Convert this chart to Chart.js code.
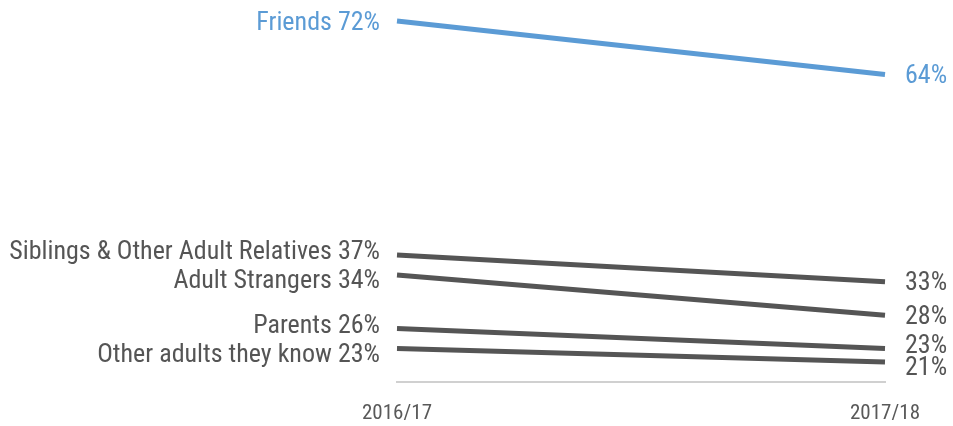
<!DOCTYPE html>
<html><head><meta charset="utf-8">
<script src="https://cdn.jsdelivr.net/npm/chart.js@4"></script>
<style>html,body{margin:0;padding:0;background:#fff}#w{width:953px;height:426px}</style>
</head><body><div id="w"><canvas id="c"></canvas></div>
<script>
const years = ["2016/17", "2017/18"];
const seriesNames = ["Friends", "Siblings & Other Adult Relatives", "Adult Strangers", "Parents", "Other adults they know"];
const friends = [72, 64];
const siblings = [37, 33];
const strangers = [34, 28];
const parents = [26, 23];
const otherAdults = [23, 21];
const seriesValues = [friends, siblings, strangers, parents, otherAdults];
const seriesColors = ["#5b9bd5", "#555555", "#555555", "#555555", "#555555"];

const FONT = "'Roboto Condensed','Roboto',sans-serif";

const labelPlugin = {
  id: 'endLabels',
  afterDatasetsDraw(chart) {
    const ctx = chart.ctx;
    ctx.save();
    ctx.font = "26px " + FONT;
    ctx.textBaseline = 'middle';
    [0, 1].forEach(side => {
      const items = chart.data.datasets.map((ds, i) => {
        const pt = chart.getDatasetMeta(i).data[side];
        return {i, x: pt.x, y: pt.y + 2, color: ds.borderColor,
          text: side === 0 ? ds.label + ' ' + ds.data[0] + '%' : ds.data[1] + '%'};
      }).sort((a, b) => a.y - b.y);
      const gap = side === 0 ? 29 : 22;
      for (let k = 1; k < items.length; k++) {
        const d = items[k].y - items[k-1].y;
        if (d < gap) {
          const sh = (gap - d) / 2;
          items[k-1].y -= sh; items[k].y += sh;
        }
      }
      items.forEach(it => {
        ctx.fillStyle = it.color;
        if (side === 0) { ctx.textAlign = 'right'; ctx.fillText(it.text, it.x - 17, it.y); }
        else { ctx.textAlign = 'left'; ctx.fillText(it.text, it.x + 20, it.y); }
      });
    });
    ctx.restore();
  }
};

new Chart(document.getElementById('c'), {
  type: 'line',
  data: {
    labels: years,
    datasets: seriesValues.map((v, i) => ({
      label: seriesNames[i], data: v, borderColor: seriesColors[i],
      borderWidth: 5, pointRadius: 0, fill: false, tension: 0, clip: false
    }))
  },
  options: {
    responsive: true, maintainAspectRatio: false, animation: false,
    layout: {padding: {left: 397, right: 68, top: 21, bottom: 0}},
    plugins: {legend: {display: false}, tooltip: {enabled: false}},
    scales: {
      x: {offset: false, grid: {display: false, drawTicks: false},
          border: {display: true, color: '#d0d0d0', width: 2},
          ticks: {color: '#595959', font: {size: 21, family: FONT}, padding: 19},
          afterFit(scale) { scale.height = 44; }},
      y: {display: false, min: 18, max: 72}
    }
  },
  plugins: [labelPlugin]
});
</script></body></html>
